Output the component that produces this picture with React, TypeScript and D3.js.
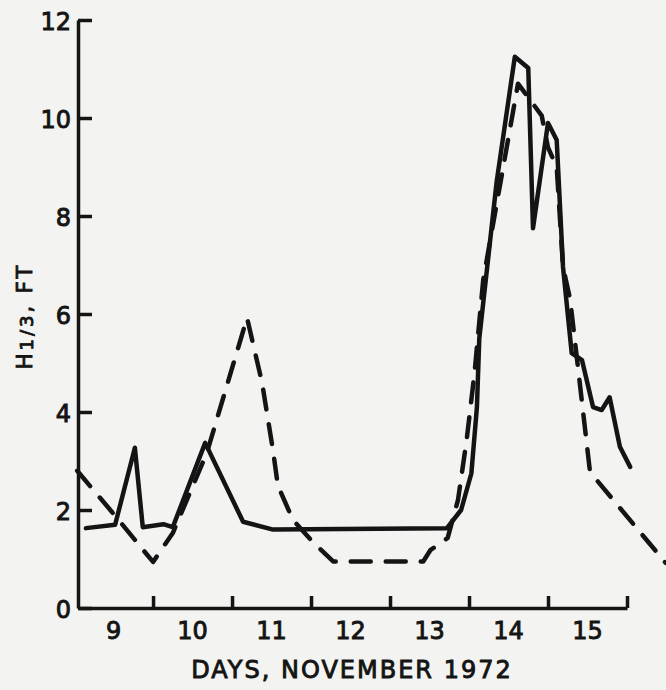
import React, { useRef, useEffect } from 'react';
import * as d3 from 'd3';

// days, November 1972 (9.0 = start of Nov 9)
const solidDays = [9.15, 9.52, 9.77, 9.87, 10.13, 10.25, 10.66, 11.14, 11.52, 13.72, 13.9, 14.03, 14.1, 14.13, 14.35, 14.58, 14.75, 14.81, 15.0, 15.11, 15.19, 15.3, 15.43, 15.57, 15.68, 15.78, 15.91, 16.04];
const solidH = [1.63, 1.7, 3.27, 1.65, 1.71, 1.65, 3.37, 1.76, 1.6, 1.63, 2.0, 2.75, 4.1, 5.5, 8.7, 11.25, 11.02, 7.75, 9.9, 9.55, 6.96, 5.2, 5.06, 4.1, 4.04, 4.3, 3.29, 2.88];

const dashedDays = [9.04, 9.48, 10.0, 10.25, 10.68, 11.19, 11.38, 11.52, 11.58, 11.77, 12.02, 12.28, 13.42, 13.51, 13.73, 13.86, 13.97, 14.07, 14.18, 14.62, 14.92, 15.0, 15.11, 15.19, 15.28, 15.38, 15.53, 15.57, 16.49];
const dashedH = [2.8, 1.96, 0.94, 1.53, 3.16, 5.92, 4.6, 3.2, 2.5, 1.8, 1.35, 0.95, 0.95, 1.18, 1.43, 2.2, 3.43, 4.8, 6.7, 10.7, 10.05, 9.4, 9.0, 6.96, 6.3, 4.9, 2.8, 2.7, 0.92];

const yTicks = [0, 2, 4, 6, 8, 10, 12];
const dayLabels = ['9', '10', '11', '12', '13', '14', '15'];
const dayTicks = [10, 11, 12, 13, 14, 15, 16];

const INK = '#141414';

function drawChart(root: any) {
  root.selectAll('*').remove();

  const width = 666;
  const height = 690;

  root.append('rect')
    .attr('width', width)
    .attr('height', height)
    .attr('fill', '#f3f3f1');

  const x = d3.scaleLinear().domain([9.05, 16]).range([78, 627]);
  const y = d3.scaleLinear().domain([0, 12]).range([608, 20]);

  const font = "'DejaVu Sans', sans-serif";

  // axes
  const yAxis = d3.axisRight(y)
    .tickValues(yTicks)
    .tickSize(14)
    .tickSizeOuter(0)
    .tickFormat(() => '');
  const gy = root.append('g')
    .attr('transform', `translate(${x(9.05)},0)`)
    .call(yAxis);
  gy.selectAll('path, line').attr('stroke', INK).attr('stroke-width', 3.5);

  const xAxis = d3.axisTop(x)
    .tickValues(dayTicks)
    .tickSize(12)
    .tickSizeOuter(0)
    .tickFormat(() => '');
  const gx = root.append('g')
    .attr('transform', `translate(0,${y(0)})`)
    .call(xAxis);
  gx.selectAll('path, line').attr('stroke', INK).attr('stroke-width', 3.5);

  // lettering is heavy in the original, thicken with a thin stroke
  const letter = (sel: any, size: number) => sel
    .attr('font-family', font)
    .attr('font-size', size)
    .attr('fill', INK)
    .attr('stroke', INK)
    .attr('stroke-width', 0.9);

  // y tick labels
  root.append('g')
    .selectAll('text')
    .data(yTicks)
    .join('text')
    .attr('x', 71)
    .attr('y', (d: number) => y(d) + 10)
    .attr('text-anchor', 'end')
    .call(letter, 24)
    .text((d: number) => d);

  // day labels at mid-day
  root.append('g')
    .selectAll('text')
    .data(dayLabels)
    .join('text')
    .attr('x', (d: string) => x(+d + 0.5))
    .attr('y', 639)
    .attr('text-anchor', 'middle')
    .call(letter, 24)
    .text((d: string) => d);

  root.append('text')
    .attr('x', 352)
    .attr('y', 678)
    .attr('text-anchor', 'middle')
    .attr('letter-spacing', 2)
    .call(letter, 24)
    .text('DAYS, NOVEMBER 1972');

  const ylab = root.append('text')
    .attr('transform', 'translate(32,316) rotate(-90)')
    .attr('text-anchor', 'middle')
    .attr('letter-spacing', 3)
    .call(letter, 21);
  ylab.append('tspan').text('H');
  ylab.append('tspan').attr('font-size', 18).attr('dy', 1).text('1/3');
  ylab.append('tspan').attr('dy', -1).text(', FT');

  const line = d3.line<[number, number]>()
    .x(d => x(d[0]))
    .y(d => y(d[1]));

  const dashed: [number, number][] = dashedDays.map((d, i) => [d, dashedH[i]]);
  const solid: [number, number][] = solidDays.map((d, i) => [d, solidH[i]]);

  root.append('path')
    .attr('d', line(dashed))
    .attr('fill', 'none')
    .attr('stroke', INK)
    .attr('stroke-width', 4.5)
    .attr('stroke-dasharray', '20 15')
    .attr('stroke-linecap', 'round')
    .attr('stroke-linejoin', 'round');

  root.append('path')
    .attr('d', line(solid))
    .attr('fill', 'none')
    .attr('stroke', INK)
    .attr('stroke-width', 4.5)
    .attr('stroke-linecap', 'round')
    .attr('stroke-linejoin', 'round');
}

export default function App() {
  const ref = useRef<SVGSVGElement>(null);

  useEffect(() => {
    if (ref.current) {
      drawChart(d3.select(ref.current));
    }
  }, []);

  return (
    <div style={{ position: 'absolute', left: 0, top: 0 }}>
      <svg ref={ref} width={666} height={690} style={{ display: 'block' }} />
    </div>
  );
}
